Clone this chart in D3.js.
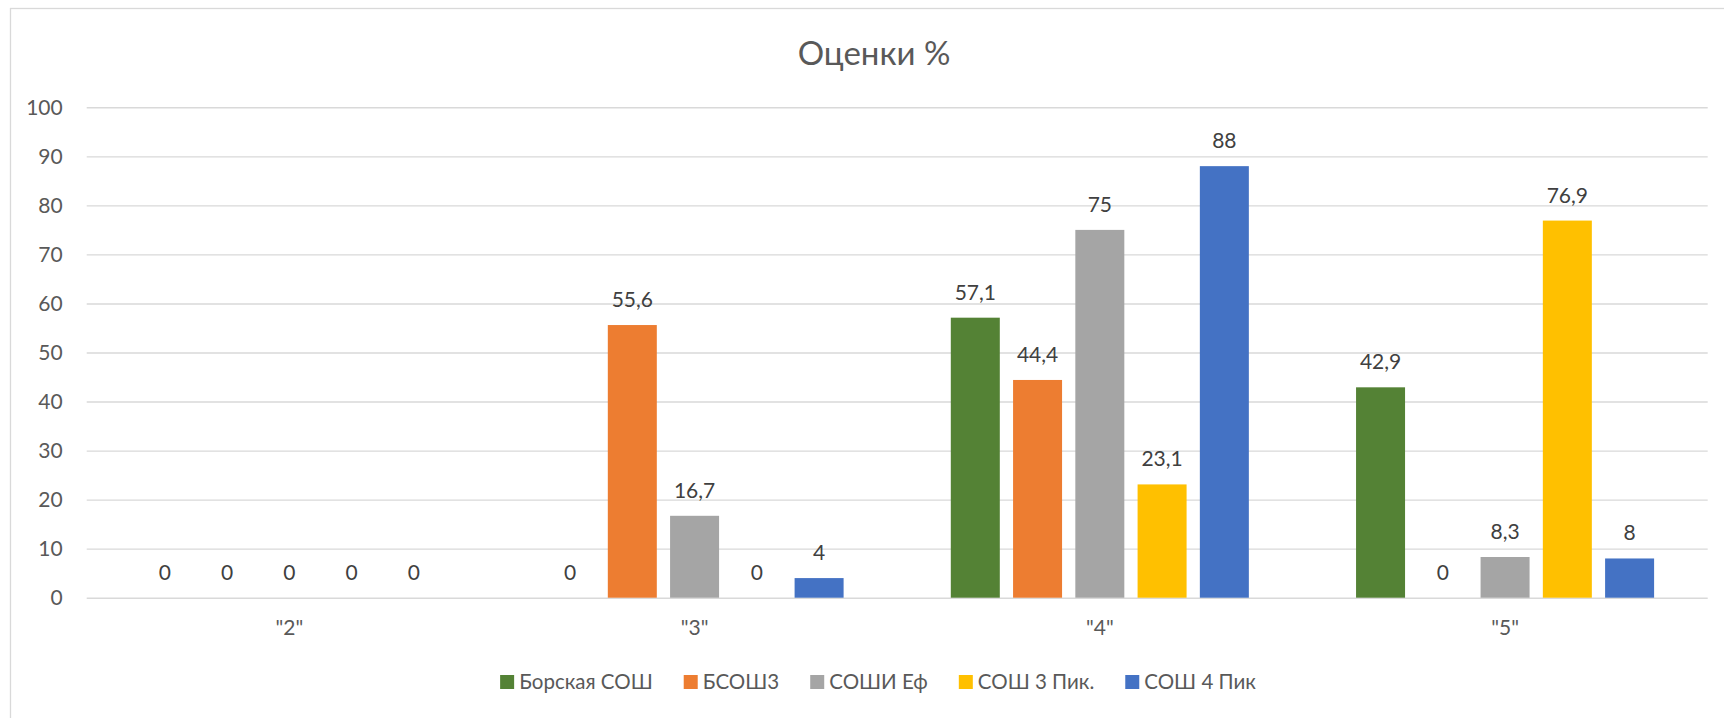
<!DOCTYPE html>
<html><head><meta charset="utf-8">
<script src="https://cdn.jsdelivr.net/npm/d3@7"></script>
<style>html,body{margin:0;padding:0;background:#fff;overflow:hidden}</style>
</head><body>
<svg id="chart" width="1724" height="718"></svg>
<script>
const categories = ['"2"', '"3"', '"4"', '"5"'];
const seriesNames = ["Борская СОШ", "БСОШ3", "СОШИ Еф", "СОШ 3 Пик.", "СОШ 4 Пик"];
const borskaya = [0, 0, 57.1, 42.9];
const bsosh3 = [0, 55.6, 44.4, 0];
const soshiEf = [0, 16.7, 75, 8.3];
const sosh3Pik = [0, 0, 23.1, 76.9];
const sosh4Pik = [0, 4, 88, 8];
const yTicks = [0, 10, 20, 30, 40, 50, 60, 70, 80, 90, 100];
const title = "Оценки %";
const colors = ["#548235", "#ED7D31", "#A5A5A5", "#FFC000", "#4472C4"];

const seriesValues = [borskaya, bsosh3, soshiEf, sosh3Pik, sosh4Pik];
const FONT = "Lato, 'Open Sans', sans-serif";
const svg = d3.select("#chart");

// chart border (left + top visible)
svg.append("rect").attr("x", 10.5).attr("y", 8.5).attr("width", 1800).attr("height", 800)
  .attr("fill", "none").attr("stroke", "#d9d9d9").attr("stroke-width", 1.3);

const plot = {left: 86.7, right: 1707.7, top: 107.3, bottom: 597.7};
const x0 = d3.scaleBand().domain(categories).range([plot.left, plot.right]).paddingInner(0).paddingOuter(0);
const groupInset = 53.6;
const x1 = d3.scaleBand().domain(seriesNames).range([groupInset, x0.bandwidth() - groupInset]).paddingInner(0.213).paddingOuter(0);
const y = d3.scaleLinear().domain([0, 100]).range([plot.bottom, plot.top]);

// gridlines + y tick labels via axis
const yAxis = d3.axisLeft(y).tickValues(yTicks).tickSize(-(plot.right - plot.left)).tickPadding(24);
const gy = svg.append("g").attr("transform", `translate(${plot.left},0)`).call(yAxis);
gy.select(".domain").remove();
gy.selectAll(".tick line").attr("stroke", "#d9d9d9").attr("stroke-width", 1.4);
gy.selectAll(".tick text").attr("fill", "#595959").style("font-family", FONT).style("font-size", "21px");

// x axis labels
const xAxis = d3.axisBottom(x0).tickSize(0).tickPadding(22);
const gx = svg.append("g").attr("transform", `translate(0,${plot.bottom})`).call(xAxis);
gx.select(".domain").remove();
gx.selectAll(".tick text").attr("fill", "#595959").style("font-family", FONT).style("font-size", "21px");

// bars
const data = [];
categories.forEach((c, ci) => seriesNames.forEach((s, si) => data.push({c, s, si, v: seriesValues[si][ci]})));
const bars = svg.append("g");
bars.selectAll("rect").data(data).join("rect")
  .attr("x", d => x0(d.c) + x1(d.s))
  .attr("width", x1.bandwidth())
  .attr("y", d => y(d.v))
  .attr("height", d => y(0) - y(d.v))
  .attr("fill", d => colors[d.si]);

const fmt = v => String(v).replace(".", ",");
svg.append("g").selectAll("text").data(data).join("text")
  .attr("x", d => x0(d.c) + x1(d.s) + x1.bandwidth() / 2)
  .attr("y", d => y(d.v) - 18)
  .attr("text-anchor", "middle")
  .attr("fill", "#404040")
  .style("font-family", FONT).style("font-size", "21px")
  .text(d => fmt(d.v));

// title
svg.append("text").attr("x", 874).attr("y", 65).attr("text-anchor", "middle")
  .attr("fill", "#595959").style("font-family", FONT).style("font-size", "33px").text(title);

// legend
const lg = svg.append("g");
const items = lg.selectAll("g").data(seriesNames).join("g");
items.append("rect").attr("width", 14).attr("height", 14).attr("y", -14).attr("fill", (d, i) => colors[i]);
items.append("text").attr("x", 19).attr("y", 0).attr("fill", "#595959")
  .style("font-family", FONT).style("font-size", "20.5px").text(d => d);
let xpos = 0;
items.each(function () {
  const g = d3.select(this);
  g.attr("transform", `translate(${xpos},0)`);
  const w = g.select("text").node().getComputedTextLength();
  xpos += 19 + w + 31;
});
const total = xpos - 31;
lg.attr("transform", `translate(${878 - total / 2},689)`);
</script>
</body></html>
